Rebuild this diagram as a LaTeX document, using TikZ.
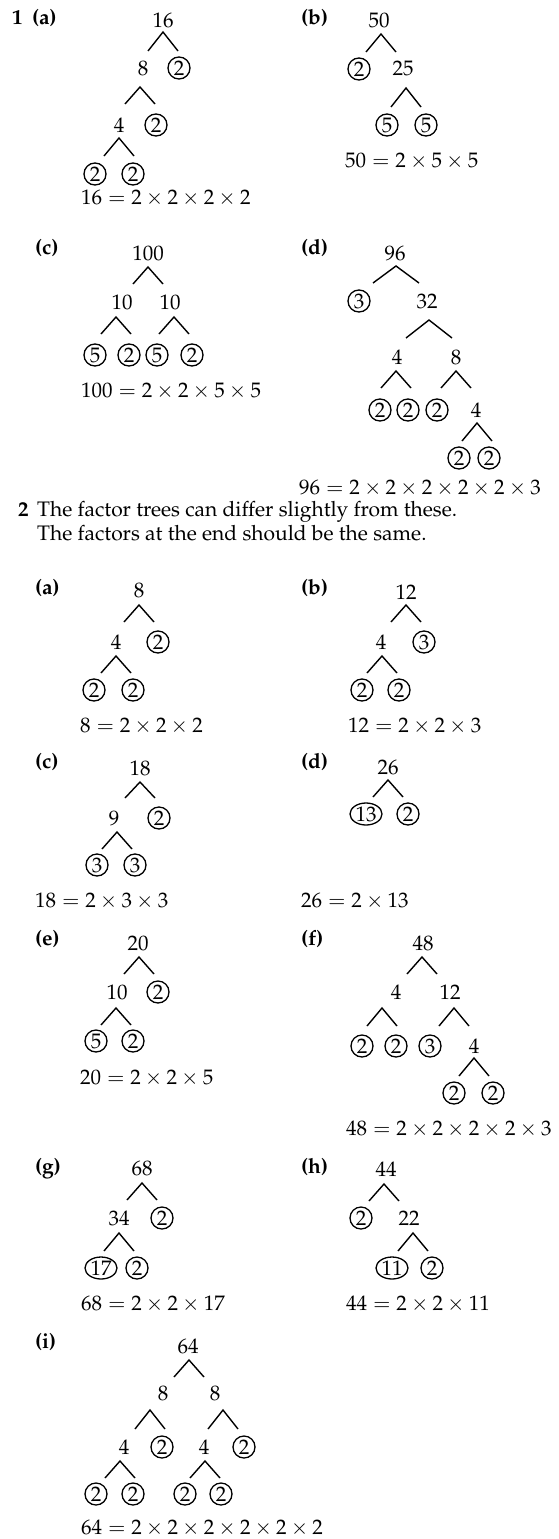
\documentclass[tikz,border=0pt]{standalone}
\usepackage[T1]{fontenc}
\usepackage{mathpazo}
\usetikzlibrary{shapes.geometric}
\newcommand\fsz{\fontsize{21}{25}\selectfont}
\newcommand\caret[5]{\coordinate (#1) at (#2,#3); \draw[leg] (#1) +(-#4,#5) -- (#1) -- +(#4,#5);}
\tikzset{
 num/.style={inner sep=0pt, text height=14.5pt, text depth=0pt, anchor=center, font=\fsz},
 circ/.style={num, draw, circle, minimum size=22pt, line width=1.3pt},
 ell/.style={num, draw, ellipse, minimum width=32pt, minimum height=22pt, line width=1.3pt},
 leg/.style={line width=1.4pt},
 lab/.style={inner sep=0pt, anchor=base west, font=\fsz\bfseries},
 eqn/.style={inner sep=0pt, anchor=west, text height=14.5pt, text depth=0pt, font=\fsz},
 txt/.style={inner sep=0pt, anchor=base west, font=\fsz},
}
\begin{document}
\begin{tikzpicture}[x=1pt,y=-1pt]
\useasboundingbox (0,0) rectangle (558,1539);
% ---------- Section 1 ----------
\node[lab] (s1) at (12,24) {1};
\node[lab] (l1a) at (32,24) {(a)};
\node[num] (a0) at (163,20) {16};
\caret{ka0}{163}{32}{15}{19}
\node[num] (a1) at (143,68) {8};
\node[circ] (a2) at (179,68) {2};
\caret{ka1}{140}{87}{15}{17}
\node[num] (a3) at (119,125) {4};
\node[circ] (a4) at (156,125) {2};
\caret{ka3}{119}{138}{15}{18}
\node[circ] (a5) at (95,174) {2};
\node[circ] (a6) at (133,174) {2};
\node[eqn] (ea) at (81,197) {$16 = 2 \times 2 \times 2 \times 2$};

\node[lab] (l1b) at (301,24) {(b)};
\node[num] (b0) at (379,20) {50};
\caret{kb0}{381}{34}{15}{18}
\node[circ] (b1) at (359,69) {2};
\node[num] (b2) at (403,68) {25};
\caret{kb2}{406}{88}{15}{19}
\node[circ] (b3) at (387,125) {5};
\node[circ] (b4) at (426,125) {5};
\node[eqn] (eb) at (345,160) {$50 = 2 \times 5 \times 5$};

\node[lab] (l1c) at (35,254) {(c)};
\node[num] (c0) at (148,253) {100};
\caret{kc0}{148}{267}{15}{17}
\node[num] (c1) at (122,302) {10};
\node[num] (c2) at (170,302) {10};
\caret{kc1}{116}{317}{15}{17}
\caret{kc2}{174}{317}{15}{17}
\node[circ] (c3) at (95,355) {5};
\node[circ] (c4) at (129,355) {2};
\node[circ] (c5) at (157,355) {5};
\node[circ] (c6) at (192,355) {2};
\node[eqn] (ec) at (81,390) {$100 = 2 \times 2 \times 5 \times 5$};

\node[lab] (l1d) at (301,254) {(d)};
\node[num] (d0) at (395,253) {96};
\caret{kd0}{396}{266}{23}{17}
\node[circ] (d1) at (359,301) {3};
\node[num] (d2) at (427,301) {32};
\caret{kd2}{429}{320}{23}{18}
\node[num] (d3) at (397,357) {4};
\node[num] (d4) at (456,357) {8};
\caret{kd3}{396}{371}{15}{17}
\caret{kd4}{456}{371}{15}{17}
\node[circ] (d5) at (380,410) {2};
\node[circ] (d6) at (408,410) {2};
\node[circ] (d7) at (437,410) {2};
\node[num] (d8) at (476,410) {4};
\caret{kd8}{477}{423}{15}{18}
\node[circ] (d9) at (459,458) {2};
\node[circ] (d10) at (489,458) {2};
\node[eqn] (ed) at (299,487) {$96 = 2 \times 2 \times 2 \times 2 \times 2 \times 3$};

% ---------- Section 2 ----------
\node[lab] (s2) at (18,516) {2};
\node[txt] (t1) at (37,516) {The factor trees can differ slightly from these.};
\node[txt] (t2) at (37,540) {The factors at the end should be the same.};

\node[lab] (m2a) at (35,594) {(a)};
\node[num] (p0) at (139,590) {8};
\caret{kp0}{139}{605}{15}{17}
\node[num] (p1) at (116,642) {4};
\node[circ] (p2) at (158,642) {2};
\caret{kp1}{116}{656}{15}{17}
\node[circ] (p3) at (94,690) {2};
\node[circ] (p4) at (133,690) {2};
\node[eqn] (ep) at (80,725) {$8 = 2 \times 2 \times 2$};

\node[lab] (m2b) at (301,594) {(b)};
\node[num] (q0) at (406,592) {12};
\caret{kq0}{406}{605}{15}{17}
\node[num] (q1) at (381,642) {4};
\node[circ] (q2) at (424,642) {3};
\caret{kq1}{382}{656}{15}{17}
\node[circ] (q3) at (362,690) {2};
\node[circ] (q4) at (399,690) {2};
\node[eqn] (eq) at (348,725) {$12 = 2 \times 2 \times 3$};

\node[lab] (m2c) at (35,768) {(c)};
\node[num] (r0) at (140,768) {18};
\caret{kr0}{140}{782}{15}{16}
\node[num] (r1) at (114,818) {9};
\node[circ] (r2) at (159,818) {2};
\caret{kr1}{117}{832}{15}{17}
\node[circ] (r3) at (97,865) {3};
\node[circ] (r4) at (135,865) {3};
\node[eqn] (er) at (35,900) {$18 = 2 \times 3 \times 3$};

\node[lab] (m2d) at (301,768) {(d)};
\node[num] (s0) at (388,767) {26};
\caret{ks0}{388}{780}{15}{17}
\node[ell] (s1n) at (366,814) {13};
\node[circ] (s2n) at (408,814) {2};
\node[eqn] (es) at (301,900) {$26 = 2 \times 13$};

\node[lab] (m2e) at (35,945) {(e)};
\node[num] (u0) at (138,943) {20};
\caret{ku0}{139}{957}{15}{17}
\node[num] (u1) at (117,992) {10};
\node[circ] (u2) at (158,992) {2};
\caret{ku1}{116}{1008}{15}{17}
\node[circ] (u3) at (96,1041) {5};
\node[circ] (u4) at (133,1041) {2};
\node[eqn] (eu) at (80,1077) {$20 = 2 \times 2 \times 5$};

\node[lab] (m2f) at (301,945) {(f)};
\node[num] (v0) at (423,943) {48};
\caret{kv0}{422}{957}{15}{17}
\node[num] (v1) at (396,992) {4};
\node[num] (v2) at (450,992) {12};
\caret{kv1}{382}{1008}{15}{18}
\caret{kv2}{454}{1008}{15}{18}
\node[circ] (v3) at (362,1046) {2};
\node[circ] (v4) at (396,1046) {2};
\node[circ] (v5) at (430,1046) {3};
\node[num] (v6) at (474,1046) {4};
\caret{kv6}{474}{1058}{15}{18}
\node[circ] (v7) at (454,1093) {2};
\node[circ] (v8) at (493,1093) {2};
\node[eqn] (ev) at (346,1128) {$48 = 2 \times 2 \times 2 \times 2 \times 3$};

\node[lab] (m2g) at (35,1173) {(g)};
\node[num] (w0) at (142,1168) {68};
\caret{kw0}{142}{1183}{15}{17}
\node[num] (w1) at (119,1218) {34};
\node[circ] (w2) at (162,1218) {2};
\caret{kw1}{119}{1233}{15}{18}
\node[ell] (w3) at (101,1268) {17};
\node[circ] (w4) at (137,1268) {2};
\node[eqn] (ew) at (81,1303) {$68 = 2 \times 2 \times 17$};

\node[lab] (m2h) at (301,1173) {(h)};
\node[num] (h0) at (386,1169) {44};
\caret{kh0}{384}{1184}{15}{17}
\node[circ] (h1) at (361,1218) {2};
\node[num] (h2) at (409,1218) {22};
\caret{kh2}{413}{1233}{15}{18}
\node[ell] (h3) at (392,1268) {11};
\node[circ] (h4) at (432,1268) {2};
\node[eqn] (eh) at (346,1303) {$44 = 2 \times 2 \times 11$};

\node[lab] (m2i) at (35,1348) {(i)};
\node[num] (i0) at (188,1346) {64};
\caret{ki0}{189}{1360}{15}{17}
\node[num] (i1) at (163,1393) {8};
\node[num] (i2) at (215,1393) {8};
\caret{ki1}{150}{1410}{15}{19}
\caret{ki2}{223}{1410}{15}{19}
\node[num] (i3) at (124,1447) {4};
\node[circ] (i4) at (162,1447) {2};
\node[num] (i5) at (204,1447) {4};
\node[circ] (i6) at (244,1447) {2};
\caret{ki3}{120}{1461}{15}{17}
\caret{ki5}{205}{1461}{15}{17}
\node[circ] (i7) at (96,1494) {2};
\node[circ] (i8) at (133,1494) {2};
\node[circ] (i9) at (185,1494) {2};
\node[circ] (i10) at (221,1494) {2};
\node[eqn] (ei) at (81,1527) {$64 = 2 \times 2 \times 2 \times 2 \times 2 \times 2$};
\end{tikzpicture}
\end{document}
